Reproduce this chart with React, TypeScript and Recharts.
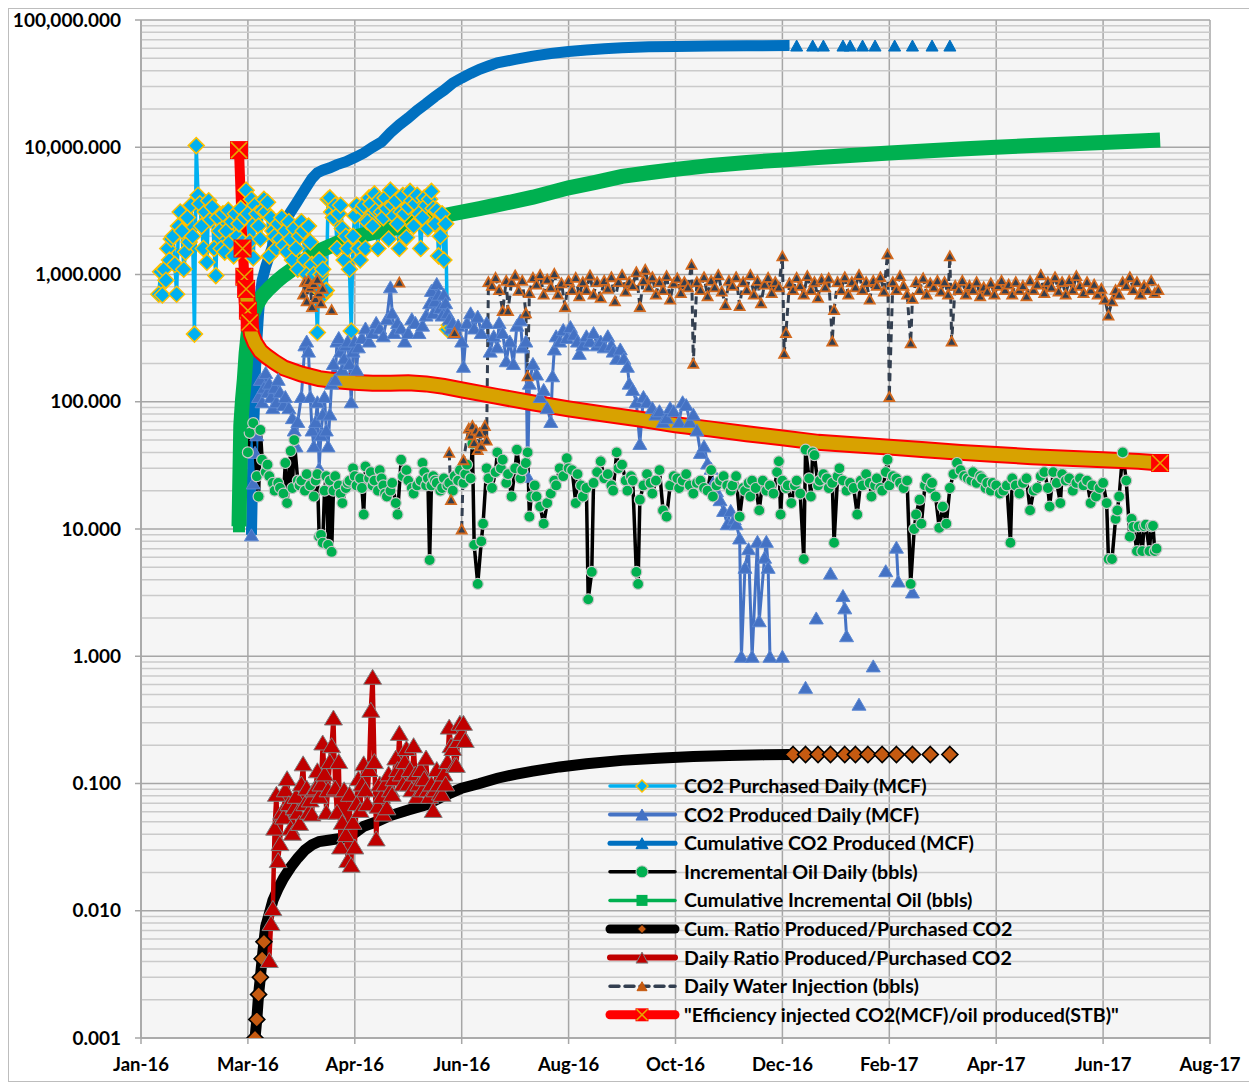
import React from 'react';
import { ComposedChart, Line, XAxis, YAxis, CartesianGrid, ReferenceLine } from 'recharts';

type Pt = [number, number | null];

// axis: days since 1 Jan 2016, 60-day major unit
const xTickDays = [0, 60, 120, 180, 240, 300, 360, 420, 480, 540, 600];
const xTickLabels = ['Jan-16', 'Mar-16', 'Apr-16', 'Jun-16', 'Aug-16', 'Oct-16', 'Dec-16', 'Feb-17', 'Apr-17', 'Jun-17', 'Aug-17'];
const yTicks = [0.001, 0.01, 0.1, 1, 10, 100, 1000, 10000, 100000];

const co2Purchased: Pt[] = [
  [10, 700], [11, 1050], [12, 690], [13, 1100], [14, 900], [15, 1600], [16, 1300], [17, 1900], [18, 2000], [19, 1200],
  [20, 700], [21, 2400], [22, 3100], [23, 2200], [24, 1100], [25, 1500], [26, 2800], [27, 1800], [28, 3500], [29, 2000],
  [30, 340], [31, 10300], [32, 4200], [33, 3600], [34, 2400], [35, 1600], [36, 3100], [37, 1250], [38, 3800], [39, 2700],
  [40, 3400], [41, 1600], [42, 980], [43, 2800], [44, 2200], [45, 1600], [46, 3000], [47, 1500], [48, 2200], [49, 3200],
  [50, 1800], [51, 2600], [52, 1400], [53, 3000], [54, 2000], [55, 2500], [56, 3300], [57, 1800], [58, 2800], [59, 4600],
  [60, 3000], [61, 1800], [62, 3900], [63, 1350], [64, 3500], [65, 3000], [66, 2400], [67, 1900], [68, 3200], [69, 3900],
  [70, 3100], [71, 3700], [72, 1400], [73, 2800], [74, 2200], [75, 2000], [76, 1600], [77, 2500], [78, 1900], [79, 2800],
  [80, 1700], [81, 2200], [82, 1500], [83, 2600], [84, 1900], [85, 1300], [86, 2300], [87, 1600], [88, 1100], [89, 2000],
  [90, 2600], [91, 2200], [92, 1300], [93, 1000], [94, 2400], [95, 1800], [96, 1200], [97, 1000], [98, 800], [99, 350],
  [100, 1300], [101, 1000], [102, 1100], [103, 700], [104, 750], [105, 3900], [106, 4000], [107, 3100], [108, 2800], [109, 3500],
  [110, 1600], [111, 3000], [112, 3500], [113, 2300], [114, 1300], [115, 2000], [116, 1600], [117, 1100], [118, 360], [119, 2000],
  [120, 2900], [121, 3500], [122, 1600], [123, 1300], [124, 3300], [125, 3500], [126, 1600], [127, 2600], [128, 4000], [129, 3600],
  [130, 2400], [131, 4300], [132, 3200], [133, 1600], [134, 3900], [135, 3100], [136, 2800], [137, 4000], [138, 3300], [139, 1900],
  [140, 4600], [141, 3500], [142, 2900], [143, 3800], [144, 2500], [145, 1600], [146, 3100], [147, 4200], [148, 3000], [149, 1950],
  [150, 3400], [151, 4500], [152, 3800], [153, 2400], [154, 3600], [155, 4200], [156, 3000], [157, 1600], [158, 2800], [159, 4000],
  [160, 3500], [161, 2300], [162, 3900], [163, 4500], [164, 3300], [165, 2500], [166, 3200], [167, 1400], [168, 2000], [169, 3000],
  [170, 1300], [171, 2500], [172, 370], [173, 400], [174, 380],
];

const co2Produced: Pt[] = [
  [62, 9], [63, 23], [64, 40], [65, 55], [66, 110], [67, 150], [68, 100], [69, 130], [70, 170], [71, 120], [72, 140], [73, 110],
  [74, 90], [75, 130], [76, 100], [77, 150], [78, 120], [80, 95], [81, 110], [83, 90], [85, 75], [86, 60], [87, 45], [88, 70],
  [90, 110], [92, 280], [93, 300], [94, 250], [95, 110], [96, 60], [97, 45], [98, 70], [99, 100], [100, 30], [101, 55], [102, 80],
  [103, 110], [104, 60], [105, 45], [106, 80], [107, 140], [108, 200], [109, 150], [110, 300], [111, 320], [112, 250], [113, 180],
  [114, 220], [115, 280], [116, 300], [117, 200], [118, 100], [119, 250], [120, 300], [121, 180], [122, 270], [124, 320], [126, 380],
  [128, 300], [130, 350], [132, 420], [134, 380], [136, 330], [138, 450], [140, 800], [141, 500], [142, 350], [144, 420], [146, 380],
  [148, 300], [150, 350], [152, 450], [154, 420], [156, 350], [158, 400], [160, 480], [162, 600], [163, 750], [164, 500], [165, 620],
  [166, 850], [167, 700], [168, 550], [169, 480], [170, 700], [171, 600], [172, 500], [173, 450], [174, 380], [175, 420], [176, 350],
  [178, 400], [180, 300], [181, 190], [183, 420], [185, 500], [187, 380], [189, 470], [191, 350], [194, 420], [196, 250], [198, 330],
  [200, 270], [201, 420], [203, 350], [205, 210], [207, 300], [209, 200], [211, 400], [213, 440], [214, 270], [216, 300], [217, 26],
  [218, 140], [220, 200], [222, 165], [224, 110], [226, 125], [228, 90], [230, 70], [231, 160], [232, 260], [233, 330], [235, 300],
  [237, 370], [239, 320], [241, 390], [243, 340], [245, 300], [246, 240], [248, 280], [250, 330], [252, 300], [254, 350], [256, 280],
  [258, 300], [260, 270], [262, 330], [264, 280], [265, 250], [267, 220], [269, 260], [271, 220], [273, 190], [274, 140], [276, 125],
  [278, 100], [280, 47], [282, 110], [284, 100], [287, 90], [289, 80], [291, 85], [293, 70], [295, 75], [297, 90], [299, 85],
  [302, 70], [304, 100], [306, 95], [308, 70], [310, 80], [312, 60], [314, 40], [316, 45], [318, 33], [320, 30], [321, 23],
  [323, 20], [325, 17], [327, 14], [329, 11], [331, 14], [333, 12], [334, 11], [336, 8.5], [337, 1], [339, 5], [341, 7], [343, 1],
  [346, 8], [347, 1.9], [350, 6], [351, 8], [352, 5], [353, 1], [354, null], [360, 1], [361, null], [373, 0.57], [374, null],
  [379, 2], [380, null], [387, 4.5], [388, null], [394, 3], [395, 2.4], [396, 1.45], [397, null], [403, 0.42], [404, null],
  [411, 0.84], [412, null], [418, 4.7], [419, null], [424, 7.2], [425, 3.9], [426, null], [433, 3.2],
];

const cumCo2Produced: Pt[] = [
  [62, 9], [63, 50], [64, 150], [65, 300], [66, 500], [67, 700], [68, 900], [70, 1150], [72, 1400], [74, 1700], [77, 2100],
  [80, 2500], [84, 3100], [87, 3600], [90, 4200], [93, 4900], [96, 5700], [99, 6300], [102, 6600], [106, 6900], [110, 7300],
  [115, 7700], [120, 8300], [125, 9000], [130, 10000], [135, 11000], [140, 13000], [145, 15000], [150, 17000], [155, 19500],
  [160, 22000], [165, 25000], [170, 28000], [175, 32000], [180, 35000], [185, 38000], [190, 41000], [195, 43500], [200, 46000],
  [210, 49000], [220, 52000], [230, 54500], [240, 56500], [250, 58000], [260, 59500], [270, 60500], [285, 61500], [300, 62000],
  [320, 62500], [340, 62800], [364, 63000],
];
const cumCo2Tail: Pt[] = [
  [368, 63000], [377, 63000], [383, 63000], [394, 63000], [398, 63000], [405, 63000], [412, 63000], [423, 63000], [433, 63000],
  [444, 63000], [454, 63000],
];

const oilDaily: Pt[] = [
  [60, 40], [61, 57], [63, 68], [65, 26], [66, 18], [67, 60], [68, 35], [70, 28], [71, 32], [72, 26], [74, 23], [75, 20], [77, 23],
  [78, 21], [80, 19], [81, 33], [82, 16], [84, 41], [85, 21], [86, 50], [88, 24], [89, 22], [90, 24], [92, 20], [93, 27], [95, 22],
  [97, 18], [98, 24], [99, 27], [100, 8.7], [101, 9], [102, 7.8], [103, 20], [104, 26], [105, 7.5], [106, 24], [107, 6.6], [108, 20],
  [109, 26], [111, 22], [112, 19], [113, 16], [115, 21], [116, 23], [117, 24], [119, 30], [120, 26], [121, 22], [123, 25], [124, 21],
  [125, 13], [126, 31], [128, 25], [129, 28], [130, 22], [131, 24], [133, 20], [134, 29], [135, 25], [136, 22], [137, 19], [138, 18],
  [140, 20], [141, 23], [143, 16], [144, 13], [146, 35], [147, 26], [149, 29], [150, 24], [152, 21], [153, 19], [155, 22], [157, 24],
  [158, 33], [159, 28], [160, 22], [161, 25], [162, 5.7], [163, 22], [164, 26], [165, 24], [166, 23], [168, 20], [169, 21], [170, 25],
  [172, 22], [173, 23], [175, 20], [176, 26], [178, 24], [179, 29], [181, 23], [182, 27], [183, 32], [185, 25], [186, 47], [187, 7.5],
  [189, 3.7], [191, 8], [192, 11], [194, 30], [195, 25], [197, 21], [199, 28], [200, 40], [202, 30], [203, 35], [205, 23], [206, 27],
  [208, 18], [210, 30], [211, 42], [213, 25], [214, 29], [216, 33], [217, 40], [218, 12.5], [219, 18], [221, 22], [222, 18], [224, 15],
  [226, 11], [228, 16], [230, 19], [232, 24], [233, 22], [235, 30], [237, 26], [239, 36], [240, 30], [242, 29], [244, 16], [245, 27],
  [247, 22], [248, 18], [250, 21], [251, 2.8], [253, 4.6], [254, 23], [256, 28], [258, 34], [260, 25], [262, 27], [264, 22], [265, 20],
  [267, 40], [268, 30], [270, 32], [272, 24], [273, 20], [275, 26], [276, 24], [278, 4.6], [279, 3.7], [280, 17], [282, 22], [284, 27],
  [286, 23], [287, 19], [289, 24], [291, 29], [293, 14], [295, 12.5], [297, 22], [299, 26], [301, 25], [302, 21], [304, 24], [306, 27],
  [308, 22], [310, 19], [312, 23], [314, 24], [316, 21], [318, 20], [320, 29], [321, 18], [323, 22], [325, 24], [327, 26], [329, 22],
  [331, 20], [332, 22], [334, 26], [336, 12.5], [338, 21], [339, 20], [341, 23], [342, 18], [343, 24], [345, 21], [347, 14], [349, 24],
  [351, 20], [353, 22], [355, 19], [357, 28], [358, 34], [359, 13], [360, 24], [362, 21], [363, 22], [365, 16], [367, 22], [368, 24],
  [370, 19], [372, 5.8], [373, 42], [375, 25], [376, 18], [377, 40], [378, 38], [380, 22], [381, 24], [383, 27], [385, 25], [386, 21],
  [388, 23], [389, 7.8], [391, 26], [392, 30], [394, 24], [396, 20], [398, 23], [400, 21], [402, 13], [404, 24], [405, 22], [407, 27],
  [409, 23], [410, 18], [412, 22], [413, 25], [415, 21], [416, 20], [418, 28], [419, 35], [420, 22], [422, 26], [424, 25], [426, 23],
  [428, 21], [430, 24], [432, 3.7], [434, 10], [435, 13], [437, 17], [438, 11], [440, 22], [441, 25], [443, 21], [444, 23], [446, 18],
  [448, 10.2], [450, 15], [452, 11], [454, 21], [456, 27], [458, 33], [460, 29], [462, 26], [464, 25], [466, 24], [467, 28], [469, 23],
  [471, 26], [472, 25], [474, 21], [475, 23], [477, 20], [478, 23], [480, 22], [482, 19], [484, 20], [486, 22], [488, 7.8], [489, 25],
  [491, 22], [493, 19], [495, 23], [497, 25], [499, 14], [501, 20], [503, 21], [505, 26], [507, 28], [509, 21], [510, 15], [512, 28],
  [514, 23], [516, 16], [517, 27], [519, 24], [521, 25], [523, 20], [525, 23], [527, 25], [529, 22], [531, 24], [533, 16], [534, 22],
  [536, 18], [538, 21], [540, 23], [542, 16], [543, 5.8], [545, 5.8], [547, 12], [548, 14], [549, 18], [551, 40], [553, 24], [555, 8.7],
  [556, 12], [557, 10.4], [559, 6.7], [560, 10.5], [562, 6.7], [563, 10.5], [564, 10.8], [566, 6.7], [567, 10.5], [568, 10.6],
  [569, 6.7], [570, 7],
];

const cumOil: Pt[] = [
  [55, 10.5], [56, 65], [57, 105], [58, 150], [59, 240], [60, 330], [61, 420], [63, 500], [65, 580], [68, 680], [72, 780], [76, 880],
  [80, 980], [85, 1100], [90, 1230], [95, 1380], [100, 1530], [110, 1760], [120, 1970], [130, 2130], [145, 2350], [160, 2700],
  [175, 3000], [190, 3300], [205, 3650], [220, 4050], [240, 4800], [255, 5300], [270, 5900], [285, 6300], [300, 6700], [320, 7200],
  [340, 7600], [360, 7950], [380, 8300], [400, 8650], [420, 9000], [440, 9350], [460, 9700], [480, 10000], [500, 10300],
  [520, 10600], [540, 10900], [560, 11200], [572, 11400],
];

const cumRatio: Pt[] = [
  [64, 0.001], [65, 0.0014], [66, 0.0022], [67, 0.003], [68, 0.0042], [69, 0.0057], [70, 0.0075], [72, 0.0095], [74, 0.012],
  [77, 0.015], [80, 0.018], [84, 0.022], [88, 0.026], [92, 0.03], [96, 0.033], [100, 0.035], [106, 0.036], [112, 0.037],
  [118, 0.039], [125, 0.046], [132, 0.05], [140, 0.056], [150, 0.062], [160, 0.068], [170, 0.08], [180, 0.092], [190, 0.1],
  [200, 0.11], [210, 0.118], [220, 0.125], [235, 0.135], [250, 0.143], [270, 0.152], [290, 0.158], [310, 0.163], [330, 0.166],
  [350, 0.168], [364, 0.169],
];
const cumRatioTail: Pt[] = [
  [366, 0.169], [373, 0.169], [380, 0.169], [387, 0.169], [395, 0.169], [401, 0.169], [408, 0.169], [416, 0.169], [424, 0.169],
  [433, 0.169], [443, 0.169], [454, 0.169],
];

const dailyRatio: Pt[] = [
  [72, 0.0041], [73, 0.008], [74, 0.0105], [75, 0.045], [76, 0.083], [77, 0.025], [78, 0.034], [79, 0.06], [80, 0.055], [81, 0.09],
  [82, 0.11], [83, 0.07], [84, 0.045], [85, 0.041], [86, 0.065], [87, 0.08], [88, 0.06], [89, 0.049], [90, 0.1], [91, 0.144],
  [92, 0.07], [93, 0.093], [94, 0.06], [95, 0.075], [96, 0.058], [97, 0.09], [98, 0.093], [99, 0.127], [100, 0.08], [101, 0.1],
  [102, 0.21], [103, 0.12], [104, 0.06], [105, 0.09], [106, 0.15], [107, 0.2], [108, 0.33], [109, 0.093], [110, 0.06], [111, 0.15],
  [112, 0.032], [113, 0.05], [114, 0.09], [115, 0.04], [116, 0.025], [117, 0.083], [118, 0.023], [119, 0.05], [120, 0.032],
  [121, 0.07], [122, 0.11], [123, 0.062], [124, 0.1], [125, 0.144], [126, 0.09], [127, 0.07], [128, 0.13], [129, 0.38], [130, 0.69],
  [131, 0.15], [132, 0.037], [133, 0.067], [134, 0.1], [135, 0.08], [136, 0.058], [137, 0.1], [138, 0.065], [139, 0.12], [140, 0.09],
  [141, 0.083], [142, 0.11], [143, 0.16], [144, 0.13], [145, 0.25], [146, 0.12], [147, 0.1], [148, 0.15], [149, 0.19], [150, 0.1],
  [151, 0.13], [152, 0.09], [153, 0.2], [154, 0.12], [155, 0.08], [156, 0.1], [157, 0.13], [158, 0.09], [159, 0.11], [160, 0.16],
  [161, 0.09], [162, 0.08], [163, 0.1], [164, 0.062], [165, 0.09], [166, 0.13], [167, 0.1], [168, 0.085], [169, 0.083], [170, 0.12],
  [171, 0.1], [172, 0.15], [173, 0.28], [174, 0.2], [175, 0.19], [176, 0.14], [177, 0.14], [178, 0.22], [179, 0.3], [180, 0.25],
  [181, 0.3], [182, 0.22],
];

const waterInjection: Pt[] = [
  [91, 700], [92, 880], [93, 620], [94, 900], [95, 800], [96, 560], [97, 850], [98, 650], [99, 920], [100, 720], [101, 600],
  [102, 780], [103, null], [107, 530], [108, null], [145, 870], [146, null], [173, 40], [174, 17], [175, null], [176, 350],
  [177, null], [180, 10], [181, 35], [184, 62], [185, 55], [186, 65], [187, 48], [188, 60], [189, 42], [190, 57], [191, 45],
  [193, 65], [194, 50], [195, 880], [197, 820], [199, 950], [201, 760], [203, 520], [205, 900], [206, 520], [208, 880], [210, 990],
  [212, 750], [214, 900], [216, 500], [217, 160], [218, 720], [220, 950], [222, 840], [224, 1000], [226, 700], [228, 920], [230, 800],
  [232, 1020], [234, 700], [236, 860], [238, 560], [240, 900], [242, 760], [244, 950], [246, 680], [248, 880], [250, 760], [252, 990],
  [254, 700], [256, 880], [258, 660], [260, 900], [262, 780], [264, 960], [266, 620], [268, 880], [270, 1000], [272, 740], [274, 880],
  [276, 820], [278, 1050], [280, 560], [282, 900], [283, 1100], [285, 800], [287, 960], [289, 700], [291, 880], [293, 760], [295, 980],
  [297, 640], [299, 860], [301, 940], [303, 720], [305, 880], [307, 800], [309, 1200], [310, 200], [312, 880], [314, 760], [316, 960],
  [318, 680], [320, 900], [322, 800], [324, 1000], [326, 740], [328, 580], [330, 900], [332, 820], [334, 960], [336, 570], [338, 880],
  [340, 760], [342, 1000], [344, 700], [346, 900], [348, 600], [350, 840], [352, 950], [354, 720], [356, 880], [358, 800], [360, 1400],
  [361, 240], [362, 350], [364, 860], [366, 760], [368, 950], [370, 820], [372, 700], [374, 980], [376, 760], [378, 880], [380, 660],
  [382, 920], [384, 800], [386, 940], [388, 300], [389, 530], [391, 880], [393, 760], [395, 960], [397, 700], [399, 880], [401, 800],
  [403, 1000], [405, 760], [407, 880], [409, 640], [411, 900], [413, 820], [415, 960], [417, 740], [419, 1450], [420, 110], [422, 880],
  [424, 760], [426, 980], [428, 820], [430, 700], [432, 290], [433, 650], [435, 880], [437, 760], [439, 940], [441, 700], [443, 860],
  [445, 800], [447, 900], [449, 740], [451, 880], [453, 700], [454, 1400], [455, 300], [457, 820], [459, 760], [461, 900], [463, 700],
  [465, 820], [467, 760], [469, 880], [471, 680], [473, 800], [475, 740], [477, 860], [479, 700], [481, 820], [483, 900], [485, 760],
  [487, 840], [489, 700], [491, 880], [493, 760], [495, 820], [497, 680], [499, 900], [501, 760], [503, 840], [505, 1000], [507, 720],
  [509, 880], [511, 800], [513, 960], [515, 740], [517, 880], [519, 700], [521, 900], [523, 760], [525, 980], [527, 820], [529, 720],
  [531, 880], [533, 760], [535, 840], [537, 700], [539, 780], [541, 640], [543, 480], [545, 620], [547, 760], [549, 700], [551, 880],
  [553, 820], [555, 960], [557, 760], [559, 880], [561, 700], [563, 820], [565, 760], [567, 900], [569, 720], [571, 760],
];

const efficiency: Pt[] = [
  [55, 9500], [57, 1600], [58, 960], [59, 770], [60, 520], [61, 420], [62, 340], [64, 290], [67, 250], [70, 230], [75, 205],
  [80, 185], [90, 165], [100, 152], [110, 146], [120, 142], [130, 140], [140, 140], [150, 141], [160, 138], [170, 132], [180, 124],
  [200, 110], [220, 98], [240, 88], [260, 80], [280, 73], [300, 66], [320, 61], [340, 56], [360, 52], [380, 48], [400, 46], [420, 44],
  [440, 42], [460, 40], [480, 38.5], [500, 37], [520, 36], [540, 35], [560, 34], [572, 33],
];

const rows = (pts: Pt[]) => pts.map(([day, v]) => ({ day, v }));

const minorTicks = yTicks.slice(0, -1).flatMap((d) => [2, 3, 4, 5, 6, 7, 8, 9].map((k) => +(k * d).toPrecision(3)));

// marker shapes
const diamond = (cx: number, cy: number, r: number, fill: string, stroke: string, sw: number) => (
  <path d={`M${cx},${cy - r}L${cx + r},${cy}L${cx},${cy + r}L${cx - r},${cy}Z`} fill={fill} stroke={stroke} strokeWidth={sw} />
);
const triangle = (cx: number, cy: number, w: number, h: number, fill: string, stroke: string, sw: number) => (
  <path d={`M${cx},${cy - h / 2}L${cx + w},${cy + h / 2}L${cx - w},${cy + h / 2}Z`} fill={fill} stroke={stroke} strokeWidth={sw} />
);
const square = (cx: number, cy: number, s: number, fill: string) => (
  <rect x={cx - s / 2} y={cy - s / 2} width={s} height={s} fill={fill} />
);
const crossBox = (cx: number, cy: number, s: number) => (
  <g>
    <rect x={cx - s / 2} y={cy - s / 2} width={s} height={s} fill="#FF0000" />
    <path
      d={`M${cx - s / 2 + 1},${cy - s / 2 + 1}L${cx + s / 2 - 1},${cy + s / 2 - 1}M${cx + s / 2 - 1},${cy - s / 2 + 1}L${cx - s / 2 + 1},${cy + s / 2 - 1}`}
      stroke="#E8A400"
      strokeWidth={1.6}
    />
  </g>
);

const marks = {
  purchased: (x: number, y: number) => diamond(x, y, 8, '#00B0F0', '#FFC000', 1.5),
  produced: (x: number, y: number) => triangle(x, y, 7, 12, '#4472C4', '#5B87D2', 1),
  cumCo2: (x: number, y: number) => triangle(x, y, 6, 11, '#0070C0', '#0070C0', 1),
  oil: (x: number, y: number) => <circle cx={x} cy={y} r={5.5} fill="#00B050" stroke="#C8C8C8" strokeWidth={1.2} />,
  cumOil: (x: number, y: number) => square(x, y, 12, '#00B050'),
  cumRatio: (x: number, y: number) => diamond(x, y, 8, '#C55A11', '#000000', 1.6),
  dailyRatio: (x: number, y: number) => triangle(x, y, 9, 15, '#C00000', '#7F7F7F', 1),
  water: (x: number, y: number) => triangle(x, y, 5, 9, '#333F50', '#D2691E', 1.8),
  efficiency: (x: number, y: number) => crossBox(x, y, 18),
};

const dotFor = (draw: (x: number, y: number) => React.ReactNode, keep?: (day: number) => boolean) => (p: any) => {
  const k = `m-${p.index}`;
  if (p.cx == null || p.cy == null || p.payload?.v == null || (keep && !keep(p.payload.day))) return <g key={k} />;
  return <g key={k}>{draw(p.cx, p.cy)}</g>;
};

const fmtY = (v: number) => v.toLocaleString('en-US', { minimumFractionDigits: 3, maximumFractionDigits: 3 });
const fmtX = (d: number) => xTickLabels[xTickDays.indexOf(d)] ?? '';

const legendItems = [
  { label: 'CO2 Purchased Daily (MCF)', stroke: '#00B0F0', width: 3.5, mark: (x: number, y: number) => diamond(x, y, 6, '#00B0F0', '#FFC000', 1.5) },
  { label: 'CO2 Produced Daily (MCF)', stroke: '#4472C4', width: 4, mark: (x: number, y: number) => triangle(x, y, 6, 11, '#4472C4', '#4472C4', 1) },
  { label: 'Cumulative CO2 Produced (MCF)', stroke: '#0070C0', width: 5, mark: (x: number, y: number) => triangle(x, y, 6, 11, '#0070C0', '#0070C0', 1) },
  { label: 'Incremental Oil Daily (bbls)', stroke: '#000000', width: 3.5, mark: (x: number, y: number) => <circle cx={x} cy={y} r={6} fill="#00B050" stroke="#C8C8C8" /> },
  { label: 'Cumulative Incremental Oil (bbls)', stroke: '#00B050', width: 3.5, mark: (x: number, y: number) => square(x, y, 11, '#00B050') },
  { label: 'Cum. Ratio Produced/Purchased CO2', stroke: '#000000', width: 9, mark: (x: number, y: number) => diamond(x, y, 4.5, '#C55A11', '#000000', 1) },
  { label: 'Daily Ratio Produced/Purchased CO2', stroke: '#C00000', width: 6, mark: (x: number, y: number) => triangle(x, y, 6, 11, '#C00000', '#7F7F7F', 1) },
  { label: 'Daily Water Injection (bbls)', stroke: '#333F50', width: 3.5, dash: '9 6', mark: (x: number, y: number) => triangle(x, y, 5, 9, '#C55A11', '#C55A11', 1) },
  { label: '"Efficiency injected CO2(MCF)/oil produced(STB)"', stroke: '#FF0000', width: 9, mark: (x: number, y: number) => crossBox(x, y, 13) },
];

function ChartLegend() {
  return (
    <svg width={1246} height={1072} style={{ position: 'absolute', left: 0, top: 0, pointerEvents: 'none' }}>
      {legendItems.map((it, i) => {
        const y = 777 + i * 28.6;
        return (
          <g key={it.label}>
            <line x1={601} x2={666} y1={y} y2={y} stroke={it.stroke} strokeWidth={it.width} strokeDasharray={it.dash} strokeLinecap="round" />
            {it.mark(633, y)}
            <text x={675} y={y} dy="0.36em" fontSize={19.6} fontWeight={700} fill="#000">
              {it.label}
            </text>
          </g>
        );
      })}
    </svg>
  );
}

export default function App() {
  const effRows = rows(efficiency);
  const effBand = effRows.filter((r) => r.day >= 59);
  const common = { dataKey: 'v', isAnimationActive: false, activeDot: false as const, legendType: 'none' as const };

  return (
    <div
      style={{
        position: 'relative',
        width: 1248,
        height: 1074,
        boxSizing: 'border-box',
        border: '1px solid #BDBDBD',
        background: '#fff',
        fontFamily: 'Lato, "Open Sans", sans-serif',
      }}
    >
      <ComposedChart width={1246} height={1072} margin={{ top: 11, right: 45, bottom: 3, left: 12 }}>
        <CartesianGrid stroke="#A6A6A6" strokeWidth={1.5} fill="#F5F5F5" />
        {minorTicks.map((v) => (
          <ReferenceLine key={v} y={v} stroke="#CACACA" strokeWidth={1.5} zIndex={-50} />
        ))}
        <XAxis
          type="number"
          dataKey="day"
          domain={[0, 600]}
          ticks={xTickDays}
          tickFormatter={fmtX}
          allowDataOverflow
          height={40}
          tickSize={6}
          tickMargin={14}
          tick={{ fontSize: 18.5, fontWeight: 700, fill: '#000' }}
          axisLine={{ stroke: '#A6A6A6', strokeWidth: 1.5 }}
          tickLine={{ stroke: '#A6A6A6', strokeWidth: 1.5 }}
        />
        <YAxis
          type="number"
          scale="log"
          domain={[0.001, 100000]}
          ticks={yTicks}
          tickFormatter={fmtY}
          allowDataOverflow
          width={120}
          tickSize={6}
          tickMargin={14}
          tick={{ fontSize: 19, fontWeight: 700, fill: '#000' }}
          axisLine={{ stroke: '#A6A6A6', strokeWidth: 1.5 }}
          tickLine={{ stroke: '#A6A6A6', strokeWidth: 1.5 }}
        />

        <Line {...common} data={rows(co2Purchased)} stroke="#00B0F0" strokeWidth={3.5} dot={dotFor(marks.purchased)} />
        <Line {...common} data={rows(co2Produced)} stroke="#4472C4" strokeWidth={3} dot={dotFor(marks.produced)} />
        <Line {...common} data={rows(cumCo2Produced)} stroke="#0070C0" strokeWidth={11} dot={false} />
        <Line {...common} data={rows(cumCo2Tail)} stroke="none" dot={dotFor(marks.cumCo2)} />
        <Line {...common} data={rows(oilDaily)} stroke="#000000" strokeWidth={3.5} dot={dotFor(marks.oil)} />
        <Line {...common} data={rows(cumOil)} stroke="#00B050" strokeWidth={15} dot={dotFor(marks.cumOil, (d) => d <= 58)} />
        <Line {...common} data={rows(cumRatio)} stroke="#000000" strokeWidth={11} dot={dotFor(marks.cumRatio, (d) => d <= 69)} />
        <Line {...common} data={rows(cumRatioTail)} stroke="none" dot={dotFor(marks.cumRatio)} />
        <Line {...common} data={rows(dailyRatio)} stroke="#C00000" strokeWidth={4.5} dot={dotFor(marks.dailyRatio)} />
        <Line {...common} data={rows(waterInjection)} stroke="#333F50" strokeWidth={3} strokeDasharray="8 5" dot={dotFor(marks.water)} />
        <Line {...common} data={effRows} stroke="#FF0000" strokeWidth={10} dot={dotFor(marks.efficiency, (d) => d <= 61 || d >= 572)} />
        <Line {...common} data={effBand} stroke="#FF0000" strokeWidth={17} dot={false} />
        <Line {...common} data={effBand} stroke="#D8A200" strokeWidth={13} dot={false} />
      </ComposedChart>
      <ChartLegend />
    </div>
  );
}
